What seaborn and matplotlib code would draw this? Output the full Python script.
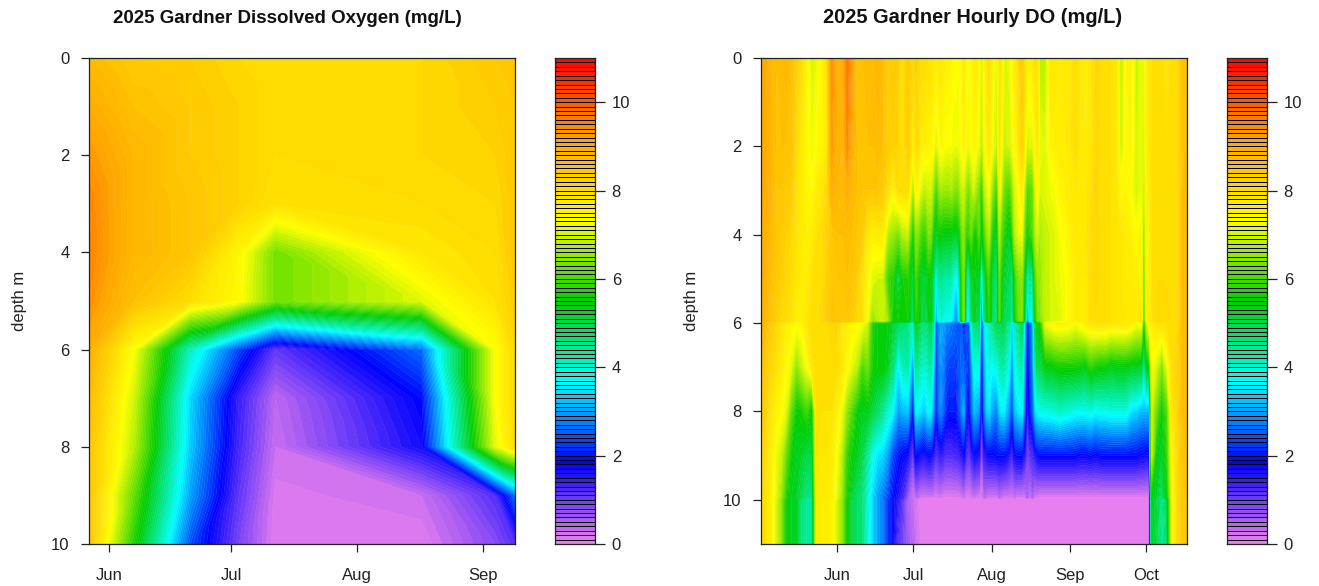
import numpy as np
import matplotlib
matplotlib.use('Agg')
import matplotlib.pyplot as plt
import matplotlib.tri as mtri
from matplotlib.colors import LinearSegmentedColormap
import seaborn as sns

# day of year for the sampling dates, left panel
profile_days = [147, 158, 172, 184, 193, 229, 247, 252]
profile_depths = [0, 1, 2, 3, 4, 5, 6, 7, 8, 9, 10]
# one row per date, one value per depth
profile_do = [
    [8.7, 9.0, 9.3, 9.5, 9.55, 9.4, 9.0, 8.7, 8.5, 8.5, 8.5],
    [8.4, 8.6, 8.8, 8.8, 8.8, 8.6, 7.33, 7.0, 6.8, 6.2, 5.7],
    [8.3, 8.4, 8.4, 8.5, 8.5, 8.0, 4.1, 3.4, 3.3, 3.0, 2.4],
    [8.1, 8.2, 8.2, 8.2, 7.5, 7.4, 2.3, 1.4, 1.3, 1.1, 0.9],
    [8.0, 8.0, 8.0, 7.9, 6.3, 6.3, 1.1, 0.4, 0.3, 0.15, 0.1],
    [8.1, 8.1, 8.1, 8.0, 7.8, 7.1, 2.6, 1.9, 1.7, 0.3, 0.1],
    [8.4, 8.3, 8.2, 8.1, 8.0, 7.9, 7.3, 7.3, 7.1, 1.2, 0.8],
    [8.5, 8.4, 8.4, 8.4, 8.4, 8.3, 8.1, 8.1, 8.0, 2.6, 1.2],
]
profile_ticks = [152, 182, 213, 244]
profile_months = ['Jun', 'Jul', 'Aug', 'Sep']

# right panel, logger string
hourly_days = (list(range(122, 182, 2)) + list(range(182, 233)) + list(range(234, 273, 2))
               + [273, 274, 275, 276, 278, 280, 282, 284, 286, 288, 290])
hourly_depths = [0, 2, 3, 4, 5, 5.95, 6, 7, 8, 9, 9.95, 10, 11]
hourly_do = [
    [9.0, 9.1, 9.1, 9.0, 8.9, 8.9, 8.8, 8.6, 8.4, 8.2, 8.1, 8.1, 8.0],
    [9.0, 9.1, 9.0, 9.0, 8.9, 8.8, 8.7, 8.4, 8.2, 8.0, 7.9, 7.9, 7.9],
    [8.8, 8.8, 8.8, 8.7, 8.6, 8.5, 8.3, 8.1, 7.8, 7.6, 7.6, 7.6, 7.6],
    [8.6, 8.6, 8.5, 8.5, 8.4, 8.3, 8.1, 7.9, 7.5, 7.2, 7.1, 7.0, 7.0],
    [8.7, 8.6, 8.5, 8.4, 8.3, 8.1, 7.9, 7.7, 7.4, 6.9, 6.6, 6.5, 6.5],
    [8.8, 8.6, 8.4, 8.2, 8.1, 8.0, 7.6, 7.4, 7.1, 6.2, 5.7, 5.5, 5.5],
    [8.6, 8.6, 8.4, 8.1, 8.0, 7.9, 7.5, 7.1, 6.1, 5.5, 5.3, 5.3, 5.3],
    [8.3, 8.0, 7.9, 7.9, 7.8, 7.6, 7.4, 6.5, 5.5, 5.3, 5.2, 5.3, 5.3],
    [8.0, 7.7, 7.7, 7.7, 7.7, 7.6, 7.5, 6.9, 5.6, 5.2, 4.9, 4.6, 4.6],
    [7.6, 7.4, 7.5, 7.6, 7.7, 7.8, 7.8, 7.3, 5.9, 5.0, 4.6, 4.4, 4.4],
    [7.0, 7.2, 7.4, 7.7, 7.9, 8.0, 8.0, 7.8, 5.4, 5.0, 4.5, 4.4, 4.4],
    [7.2, 7.4, 7.7, 7.9, 8.0, 8.0, 8.0, 8.0, 8.0, 7.9, 7.8, 7.8, 7.8],
    [7.5, 7.5, 7.8, 8.0, 8.0, 8.1, 8.0, 8.0, 7.9, 7.8, 7.7, 7.7, 7.7],
    [8.0, 7.8, 8.1, 8.2, 8.3, 8.3, 8.0, 8.0, 7.9, 7.8, 7.7, 7.7, 7.7],
    [9.5, 9.3, 9.0, 8.5, 8.5, 8.6, 8.1, 8.0, 7.9, 7.7, 7.6, 7.5, 7.5],
    [8.9, 8.9, 8.8, 8.6, 8.5, 8.5, 8.2, 8.0, 7.6, 7.3, 7.1, 7.0, 7.0],
    [8.9, 8.8, 8.7, 8.6, 8.5, 8.4, 7.7, 7.8, 7.2, 6.8, 6.6, 6.5, 6.5],
    [9.7, 9.5, 9.0, 8.7, 8.6, 8.5, 7.6, 7.4, 6.5, 5.8, 5.6, 5.5, 5.5],
    [9.2, 9.0, 8.7, 8.6, 8.5, 8.3, 7.5, 7.1, 6.0, 5.5, 5.1, 5.0, 5.0],
    [8.6, 8.6, 8.6, 8.5, 8.3, 8.1, 7.4, 6.8, 5.5, 5.3, 4.8, 4.8, 4.8],
    [8.6, 8.6, 8.5, 8.4, 7.9, 8.0, 7.3, 6.0, 5.3, 5.0, 4.6, 4.6, 4.6],
    [8.7, 8.6, 8.5, 7.7, 7.5, 7.3, 7.0, 6.3, 5.4, 4.4, 4.0, 4.0, 3.9],
    [8.7, 8.6, 8.5, 7.6, 7.1, 6.5, 5.7, 5.6, 5.1, 3.8, 3.4, 3.4, 3.4],
    [8.8, 8.7, 8.5, 7.7, 7.0, 6.8, 5.5, 5.5, 4.8, 3.5, 3.0, 3.0, 3.0],
    [8.7, 8.6, 8.4, 7.7, 7.0, 7.0, 5.5, 5.5, 4.5, 3.4, 2.7, 2.7, 2.7],
    [8.3, 8.3, 8.0, 6.8, 5.9, 6.6, 5.4, 5.3, 4.0, 3.0, 2.3, 2.2, 2.2],
    [8.4, 8.3, 7.5, 6.6, 5.7, 5.6, 5.2, 4.7, 3.7, 2.3, 1.9, 1.8, 1.8],
    [8.3, 8.2, 8.0, 6.3, 5.0, 5.5, 4.9, 3.6, 3.0, 2.0, 1.6, 1.5, 1.2],
    [7.9, 7.9, 8.0, 6.8, 5.6, 5.6, 4.7, 4.2, 3.2, 1.8, 1.3, 1.1, 0.9],
    [8.4, 8.4, 8.0, 6.9, 5.7, 5.6, 4.6, 4.3, 3.3, 1.7, 0.6, 0.5, 0.6],
    # daily from here, the stripes are narrow in July and August
    [8.1, 7.5, 6.6, 5.5, 5.0, 4.6, 4.0, 2.8, 1.9, 1.0, 0.2, 0.3, 0.4],
    [8.3, 8.0, 7.5, 6.5, 6.0, 5.8, 5.3, 4.5, 3.7, 1.9, 0.4, 0.2, 0.3],
    [8.2, 8.0, 7.4, 6.4, 5.6, 5.6, 5.2, 4.4, 3.6, 1.8, 0.4, 0.1, 0.2],
    [8.0, 7.7, 7.1, 6.0, 5.3, 5.3, 4.9, 4.2, 3.5, 1.7, 0.2, 0.05, 0.1],
    [8.0, 7.6, 6.9, 5.9, 5.1, 5.0, 4.6, 4.0, 3.3, 1.6, 0.2, 0, 0],
    [8.0, 7.6, 6.9, 5.9, 5.2, 5.1, 4.7, 4.0, 3.4, 1.7, 0.2, 0, 0],
    [7.9, 7.5, 7.0, 6.4, 5.5, 5.4, 4.9, 4.3, 3.7, 1.8, 0.2, 0, 0],
    [7.9, 7.5, 7.0, 6.4, 5.4, 5.4, 5.0, 4.3, 3.7, 1.8, 0.2, 0, 0],
    [7.8, 7.4, 6.6, 5.6, 4.8, 4.6, 4.4, 3.6, 3.0, 1.6, 0.2, 0, 0],
    [7.7, 7.0, 5.9, 5.2, 3.6, 2.9, 2.3, 2.1, 2.0, 1.2, 0.1, 0, 0],
    [7.8, 7.3, 6.4, 5.5, 4.4, 3.8, 2.9, 2.7, 2.6, 1.4, 0.2, 0, 0],
    [7.8, 7.5, 6.7, 5.5, 4.5, 4.0, 3.1, 2.9, 2.8, 1.5, 0.2, 0, 0],
    [7.7, 7.4, 6.6, 5.4, 4.4, 3.9, 3.0, 2.7, 2.5, 1.4, 0.1, 0, 0],
    [7.6, 7.3, 6.6, 5.4, 4.3, 3.8, 2.8, 2.4, 2.1, 1.2, 0.1, 0, 0],
    [7.6, 7.3, 6.6, 5.4, 4.3, 3.7, 2.8, 2.3, 2.0, 1.2, 0.1, 0, 0],
    [7.5, 7.3, 6.7, 5.4, 4.3, 3.7, 2.7, 2.3, 2.0, 1.2, 0.1, 0, 0],
    [7.4, 7.2, 6.5, 5.3, 3.9, 3.2, 2.6, 2.3, 2.0, 1.3, 0.1, 0, 0],
    [7.4, 7.2, 6.4, 5.3, 3.7, 2.8, 2.5, 2.2, 2.0, 1.3, 0.1, 0, 0],
    [7.3, 7.2, 6.5, 5.4, 4.0, 3.4, 2.5, 2.4, 2.3, 1.4, 0.1, 0, 0],
    [7.5, 7.4, 6.9, 6.2, 5.8, 5.6, 2.5, 2.6, 2.8, 1.6, 0.2, 0, 0],
    [7.8, 7.6, 7.0, 6.5, 6.4, 6.5, 1.9, 2.5, 3.2, 1.8, 0.3, 0, 0],
    [7.4, 7.3, 6.5, 5.8, 4.5, 3.9, 2.5, 2.3, 2.0, 1.3, 0.1, 0, 0],
    [7.3, 7.2, 6.3, 5.9, 4.2, 3.5, 2.5, 2.1, 1.8, 1.1, 0.1, 0, 0],
    [7.5, 7.4, 6.7, 6.2, 5.2, 4.8, 4.0, 3.0, 2.6, 1.5, 0.2, 0, 0],
    [7.7, 7.5, 7.0, 5.6, 5.5, 5.4, 4.7, 3.9, 3.2, 1.8, 0.3, 0, 0],
    [7.7, 7.4, 6.6, 5.6, 5.3, 5.0, 4.7, 3.8, 3.1, 1.7, 0.2, 0, 0],
    [7.5, 7.2, 6.4, 6.2, 5.3, 5.0, 4.8, 3.9, 3.0, 1.6, 0.2, 0, 0],
    [7.0, 6.8, 5.7, 5.2, 3.3, 1.9, 1.8, 1.4, 1.0, 0.6, 0.1, 0, 0],
    [7.5, 7.3, 6.8, 6.0, 5.1, 4.6, 3.5, 3.1, 2.8, 1.5, 0.4, 0, 0],
    [7.9, 7.6, 7.1, 6.5, 5.6, 5.3, 4.0, 3.7, 3.4, 1.7, 0.3, 0, 0],
    [8.0, 7.8, 7.3, 6.8, 5.9, 5.8, 4.2, 3.9, 3.5, 1.8, 0.2, 0, 0],
    [7.7, 7.4, 6.7, 5.8, 5.2, 5.0, 4.5, 3.7, 3.1, 1.8, 0.2, 0, 0],
    [7.3, 7.1, 6.2, 5.4, 4.8, 4.6, 4.8, 3.8, 2.9, 1.8, 0.2, 0, 0],
    [7.1, 6.9, 5.9, 5.2, 4.7, 4.5, 5.0, 3.9, 2.8, 1.9, 0.2, 0, 0],
    [7.9, 7.8, 7.5, 6.8, 6.3, 6.2, 4.9, 4.2, 3.4, 1.9, 0.4, 0, 0],
    [7.6, 7.3, 6.8, 6.0, 5.5, 5.3, 5.0, 4.3, 3.6, 1.9, 0.3, 0, 0],
    [7.1, 6.9, 6.2, 5.7, 5.2, 4.9, 5.0, 4.3, 3.6, 1.9, 0.2, 0, 0],
    [7.1, 7.0, 6.1, 5.4, 5.0, 4.8, 4.6, 4.0, 3.2, 1.8, 0.2, 0, 0],
    [7.2, 7.0, 6.0, 5.2, 4.9, 4.8, 4.4, 3.7, 2.9, 1.6, 0.2, 0, 0],
    [7.5, 7.2, 6.5, 5.9, 4.4, 3.9, 3.2, 2.7, 2.2, 1.3, 0.2, 0, 0],
    [7.7, 7.5, 7.1, 6.8, 5.8, 5.6, 4.2, 3.8, 3.3, 1.8, 0.3, 0, 0],
    [7.9, 7.6, 7.2, 7.0, 6.2, 6.0, 4.5, 4.0, 3.4, 1.9, 0.2, 0, 0],
    [8.2, 8.0, 7.5, 7.2, 6.4, 6.3, 4.8, 4.2, 3.6, 1.9, 0.2, 0, 0],
    [8.4, 8.2, 7.7, 7.2, 6.5, 6.4, 5.0, 4.2, 3.7, 1.9, 0.2, 0, 0],
    [8.0, 7.6, 6.8, 6.2, 5.3, 5.0, 3.5, 3.0, 2.5, 1.5, 0.2, 0, 0],
    [7.6, 7.0, 6.0, 5.6, 4.2, 2.6, 1.9, 1.6, 1.3, 0.9, 0.5, 0, 0],
    [7.6, 7.1, 6.1, 5.8, 4.5, 3.9, 2.5, 2.3, 2.0, 1.2, 0.2, 0, 0],
    [7.8, 7.0, 6.2, 6.0, 4.3, 3.7, 3.0, 2.7, 2.4, 1.3, 0.5, 0, 0],
    [8.0, 7.5, 7.0, 6.7, 6.0, 5.5, 4.8, 4.3, 3.4, 1.6, 0.2, 0, 0],
    [7.9, 7.8, 7.5, 7.0, 6.5, 6.3, 5.5, 5.0, 3.7, 1.8, 0.2, 0, 0],
    [6.8, 7.2, 7.0, 6.7, 6.6, 6.4, 5.6, 5.0, 3.8, 1.9, 0.1, 0, 0],
    # every second day again
    [6.8, 7.1, 7.1, 6.9, 6.9, 6.9, 7.2, 5.4, 3.9, 1.9, 0.1, 0, 0],
    [7.8, 7.5, 7.2, 7.0, 7.0, 7.0, 7.4, 5.4, 3.9, 1.9, 0.1, 0, 0],
    [7.8, 7.6, 7.3, 7.1, 7.1, 7.1, 7.6, 5.5, 4.0, 1.9, 0.1, 0, 0],
    [7.7, 7.7, 7.5, 7.3, 7.2, 7.1, 7.6, 5.6, 4.1, 1.9, 0.1, 0, 0],
    [7.8, 7.7, 7.6, 7.4, 7.3, 7.3, 7.6, 5.6, 4.0, 1.9, 0.1, 0, 0],
    [7.8, 7.8, 7.7, 7.6, 7.5, 7.5, 7.5, 5.6, 3.9, 1.9, 0.1, 0, 0],
    [8.0, 8.0, 7.8, 7.8, 7.7, 7.7, 7.3, 5.6, 3.8, 1.9, 0.1, 0, 0],
    [7.8, 7.8, 7.8, 7.8, 7.7, 7.7, 7.5, 5.5, 3.8, 1.8, 0.1, 0, 0],
    [7.6, 7.7, 7.8, 7.8, 7.7, 7.7, 7.7, 5.4, 3.8, 1.8, 0.1, 0, 0],
    [7.8, 7.8, 7.9, 8.0, 8.0, 8.0, 7.8, 5.8, 3.9, 1.9, 0.1, 0, 0],
    [8.2, 8.1, 8.2, 8.1, 8.1, 8.0, 7.9, 5.6, 3.7, 1.8, 0.1, 0, 0],
    [8.0, 8.0, 8.0, 8.0, 8.0, 8.0, 7.9, 5.5, 3.8, 1.9, 0.1, 0, 0],
    [8.0, 8.0, 8.0, 8.0, 8.0, 8.0, 7.9, 5.5, 3.8, 1.9, 0.1, 0, 0],
    [7.9, 7.9, 7.9, 7.9, 7.9, 7.9, 7.8, 5.3, 3.9, 1.9, 0.1, 0, 0],
    [7.9, 7.9, 7.9, 7.9, 7.9, 7.9, 7.8, 5.4, 3.9, 1.9, 0.1, 0, 0],
    [6.8, 6.9, 7.4, 7.8, 7.8, 7.9, 7.8, 5.4, 3.9, 1.9, 0.1, 0, 0],
    [7.5, 7.5, 7.5, 7.7, 7.7, 7.8, 7.8, 5.4, 3.9, 1.9, 0.1, 0, 0],
    [7.6, 7.5, 7.3, 7.6, 7.7, 7.8, 7.6, 5.3, 3.5, 1.9, 0.1, 0, 0],
    [6.9, 7.0, 7.0, 7.4, 7.6, 7.8, 7.3, 5.3, 3.4, 1.9, 0.1, 0, 0],
    [7.2, 7.2, 7.2, 7.5, 7.6, 7.8, 7.4, 5.2, 3.2, 1.8, 0.1, 0, 0],
    [7.2, 7.0, 6.9, 6.3, 6.0, 5.5, 5.4, 4.2, 3.2, 1.8, 0.1, 0, 0],
    [7.6, 7.6, 7.5, 7.6, 7.6, 7.7, 7.0, 5.4, 3.2, 1.7, 0.1, 0, 0],
    [7.9, 7.8, 7.7, 7.5, 7.6, 7.7, 7.5, 5.5, 3.0, 1.7, 0, 0, 0],
    [7.9, 7.9, 7.9, 7.9, 7.9, 7.9, 7.6, 7.3, 7.0, 7.0, 5.5, 5.4, 5.3],
    [8.0, 8.0, 8.0, 8.0, 8.0, 8.1, 7.9, 7.0, 6.2, 5.4, 5.2, 5.1, 5.0],
    [8.0, 8.0, 8.0, 8.0, 8.0, 8.1, 7.9, 6.4, 5.5, 5.2, 4.7, 4.5, 4.4],
    [7.8, 7.9, 7.9, 8.0, 8.0, 8.1, 7.9, 7.2, 6.0, 5.8, 5.5, 5.0, 4.8],
    [8.0, 8.0, 8.0, 8.0, 8.0, 8.0, 8.0, 8.0, 7.8, 7.5, 7.3, 7.3, 7.3],
    [8.0, 8.0, 8.0, 8.0, 8.0, 8.0, 8.0, 8.2, 8.1, 8.0, 8.0, 8.0, 8.0],
    [8.5, 8.5, 8.6, 8.6, 8.6, 8.6, 8.6, 8.6, 8.6, 8.5, 8.4, 8.4, 8.4],
    [8.7, 8.7, 8.7, 8.8, 8.8, 8.8, 8.8, 8.8, 8.8, 8.7, 8.7, 8.6, 8.6],
]
hourly_ticks = [152, 182, 213, 244, 274]
hourly_months = ['Jun', 'Jul', 'Aug', 'Sep', 'Oct']

sns.set_theme(style='ticks')
plt.rcParams['font.family'] = ['Liberation Sans', 'DejaVu Sans']
plt.rcParams['axes.edgecolor'] = '#222222'
plt.rcParams['xtick.color'] = '#222222'
plt.rcParams['ytick.color'] = '#222222'
plt.rcParams['text.color'] = '#111111'
plt.rcParams['axes.labelcolor'] = '#222222'

do_cmap = LinearSegmentedColormap.from_list(
    'do', ['violet', 'blue', 'cyan', (0, 205 / 255, 0), 'yellow', 'orange', 'red'], N=256)
levels = np.arange(0, 11.05, 0.1)

W, H = 1319, 586


def px_axes(fig, left, top, right, bottom):
    return fig.add_axes([left / W, 1 - bottom / H, (right - left) / W, (bottom - top) / H])


def style_main(ax, depth_max, xticks, xlabels, title, title_px, title_size):
    ax.set_ylim(depth_max, 0)
    ax.set_yticks([0, 2, 4, 6, 8, 10])
    ax.set_xticks(xticks)
    ax.set_xticklabels(xlabels)
    ax.tick_params(axis='x', length=6, width=0.9, pad=11, labelsize=12)
    ax.tick_params(axis='y', length=6, width=0.9, pad=8, labelsize=12)
    ax.set_ylabel('depth m', fontsize=12, labelpad=17)
    for s in ax.spines.values():
        s.set_visible(True)
        s.set_linewidth(0.9)
    ax.set_title(title, fontsize=title_size, fontweight='bold', pad=25, x=title_px)


def draw_key(cax):
    # key is a one column heatmap, top band first
    mids = (levels[:-1] + levels[1:]) / 2
    sns.heatmap(mids[::-1].reshape(-1, 1), cmap=do_cmap, vmin=0, vmax=11, cbar=False,
                linewidths=0.7, linecolor='black', xticklabels=False, ax=cax)
    cax.set_yticks([(11 - v) * 10 for v in range(0, 11, 2)])
    cax.set_yticklabels([str(v) for v in range(0, 11, 2)], rotation=0)
    cax.yaxis.tick_right()
    cax.tick_params(axis='y', length=7, width=0.9, pad=5, labelsize=12, right=True, left=False)
    cax.tick_params(axis='x', length=0)
    for s in cax.spines.values():
        s.set_visible(True)
        s.set_linewidth(0.9)


fig = plt.figure(figsize=(W / 100, H / 100), dpi=100)

# left panel, cells split so the fans lean away from the mid July peak
ax1 = px_axes(fig, 89, 58, 515, 544)
xx, yy = np.meshgrid(profile_days, profile_depths, indexing='ij')
nd = len(profile_depths)
tris = []
for i in range(len(profile_days) - 1):
    for j in range(nd - 1):
        a, b = i * nd + j, i * nd + j + 1
        c, d = (i + 1) * nd + j, (i + 1) * nd + j + 1
        if profile_days[i] < 193:
            tris += [[a, b, c], [b, c, d]]
        else:
            tris += [[a, b, d], [a, c, d]]
grid = mtri.Triangulation(xx.ravel(), yy.ravel(), tris)
cs1 = ax1.tricontourf(grid, np.array(profile_do).ravel(), levels=levels, cmap=do_cmap,
                      vmin=0, vmax=11, antialiased=True)
cs1.set_edgecolor('face')
cs1.set_linewidth(0.3)
ax1.set_xlim(147, 252)
style_main(ax1, 10, profile_ticks, profile_months,
           '2025 Gardner Dissolved Oxygen (mg/L)', (287 - 89) / 426, 13.5)
draw_key(px_axes(fig, 555, 58, 595, 544))

# right panel
ax2 = px_axes(fig, 761, 58, 1187, 544)
cs2 = ax2.contourf(hourly_days, hourly_depths, np.array(hourly_do).T, levels=levels,
                   cmap=do_cmap, vmin=0, vmax=11, antialiased=True)
# edge in the face colour closes the hairline seams between bands
cs2.set_edgecolor('face')
cs2.set_linewidth(0.3)
ax2.set_xlim(122, 290)
style_main(ax2, 11, hourly_ticks, hourly_months,
           '2025 Gardner Hourly DO (mg/L)', (973 - 761) / 426, 14.4)
draw_key(px_axes(fig, 1227, 58, 1267, 544))

fig.savefig('out.png', dpi=100)
